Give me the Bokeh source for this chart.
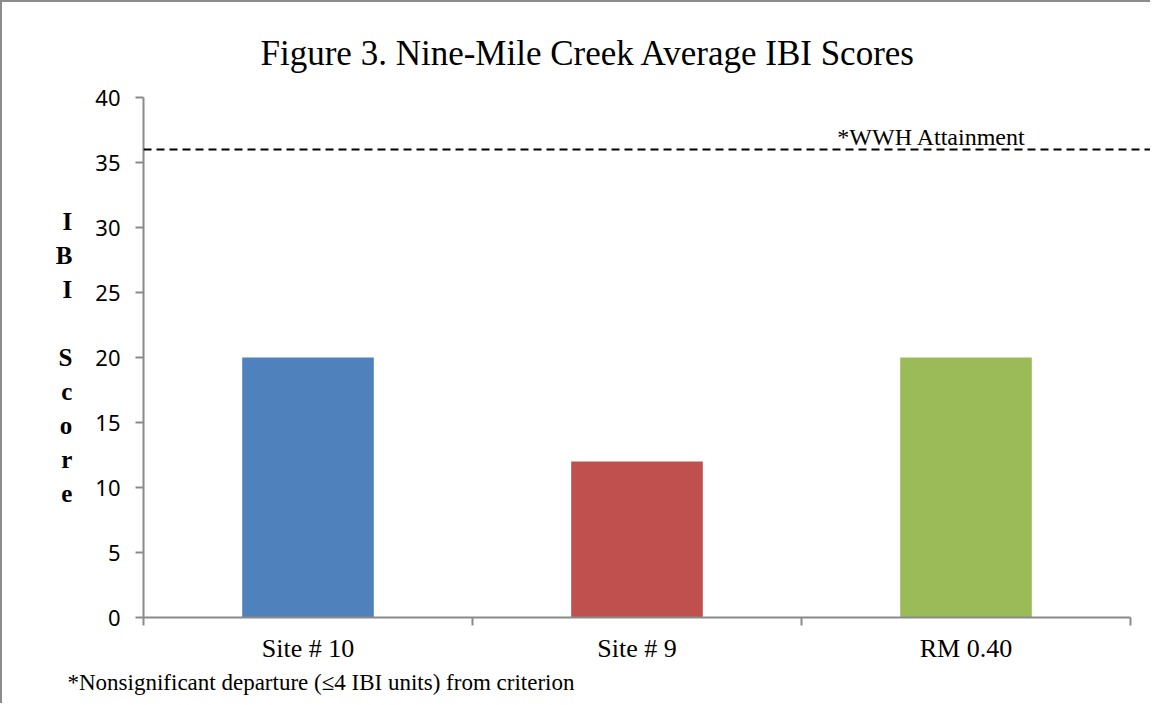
from bokeh.plotting import figure
from bokeh.models import Range1d, FixedTicker, Span, Label, Title
from bokeh.embed import file_html
from bokeh.resources import INLINE

# ---- data ----
categories = ["Site # 10", "Site # 9", "RM 0.40"]
ibi_scores = [20, 12, 20]
bar_colors = ["#4F81BD", "#C0504D", "#9BBB59"]
y_ticks = [0, 5, 10, 15, 20, 25, 30, 35, 40]
attainment = 36
title_text = "Figure 3. Nine-Mile Creek Average IBI Scores"
ylabel_text = "I\nB\nI\n\nS\nc\no\nr\ne"
attain_text = "*WWH Attainment"
foot_text = "*Nonsignificant departure (\u22644 IBI units) from criterion"

SERIF = "Liberation Serif"
SANS = "Noto Sans"
GRAY = "#8a8a8a"

n = len(categories)
centers = [i + 0.5 for i in range(n)]

W, H = 1150, 703
left, top, bottom = 141, 95, 88
unit_px = 329.0
x_end = (W - left) / unit_px

p = figure(width=W, height=H, output_backend="svg", toolbar_location=None,
           x_range=Range1d(0, x_end), y_range=Range1d(0, 40),
           min_border_left=left, min_border_top=top, min_border_bottom=bottom,
           min_border_right=0)
p.styles = {"border-left": "2px solid #8c8c8c", "border-top": "2px solid #8c8c8c"}
p.outline_line_color = None
p.background_fill_color = "white"
p.border_fill_color = "white"
p.xgrid.visible = False
p.ygrid.visible = False

p.vbar(x=centers, top=ibi_scores, width=0.4, bottom=0, fill_color=bar_colors,
       line_color=None)

p.add_layout(Span(location=attainment, dimension="width", line_color="black",
                  line_width=2, line_dash="8 5"))

# title
p.title = Title(text=title_text, align="left", offset=117, text_font=SERIF,
                text_font_size="35px", text_font_style="normal",
                text_color="black", standoff=50)

# x axis
xa = p.xaxis[0]
xa.ticker = FixedTicker(ticks=centers, minor_ticks=list(range(n + 1)))
xa.major_label_overrides = {c: lab for c, lab in zip(centers, categories)}
xa.bounds = (0, n)
xa.axis_line_color = GRAY
xa.axis_line_width = 2
xa.major_tick_out = 0
xa.major_tick_in = 0
xa.minor_tick_out = 8
xa.minor_tick_in = 0
xa.minor_tick_line_color = GRAY
xa.minor_tick_line_width = 2
xa.major_label_text_font = SERIF
xa.major_label_text_font_size = "26px"
xa.major_label_text_color = "black"
xa.major_label_standoff = 8

# footnote below the axis
p.add_layout(Title(text=foot_text, align="left", offset=-76, text_font=SERIF,
                   text_font_size="23px", text_font_style="normal",
                   text_color="black", standoff=5), "below")

# y axis
ya = p.yaxis[0]
ya.ticker = FixedTicker(ticks=y_ticks)
ya.axis_line_color = GRAY
ya.axis_line_width = 2
ya.major_tick_out = 8
ya.major_tick_in = 0
ya.minor_tick_line_color = None
ya.major_tick_line_color = GRAY
ya.major_tick_line_width = 2
ya.major_label_text_font = SANS
ya.major_label_text_font_size = "22px"
ya.major_label_text_color = "black"
ya.major_label_standoff = 15
ya.axis_label = ylabel_text
ya.axis_label_orientation = "horizontal"
ya.axis_label_text_font = SERIF
ya.axis_label_text_font_style = "bold"
ya.axis_label_text_font_size = "25px"
ya.axis_label_text_line_height = 1.26
ya.axis_label_text_color = "black"
ya.axis_label_standoff = 20

p.add_layout(Label(x=2.109, y=37.0, text=attain_text, text_align="left",
                   text_baseline="alphabetic", text_font=SERIF,
                   text_font_size="24px", text_color="black"))

open("out.html", "w").write(file_html(p, INLINE))
